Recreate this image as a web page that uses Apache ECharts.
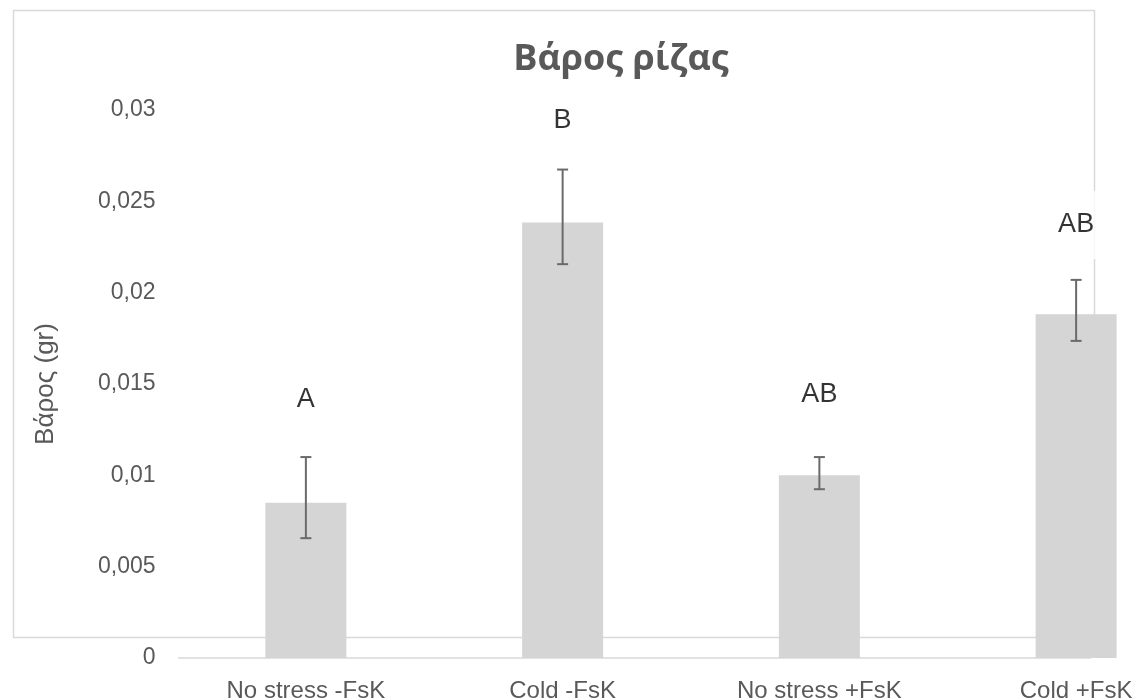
<!DOCTYPE html>
<html>
<head>
<meta charset="utf-8">
<script src="https://cdn.jsdelivr.net/npm/echarts@6/dist/echarts.min.js"></script>
<style>
  html, body { margin: 0; padding: 0; background: #ffffff; }
  #chart { width: 1135px; height: 699px; }
</style>
</head>
<body>
<div id="chart"></div>
<script>
// Treatments and mean root weight (g)
var categories = ['No stress -FsK', 'Cold -FsK', 'No stress +FsK', 'Cold +FsK'];
var meanWeight = [0.0085, 0.02384, 0.0100, 0.01882];
// Error bar ends (g)
var errLow  = [0.00656, 0.02156, 0.00924, 0.01736];
var errHigh = [0.0110, 0.02674, 0.0110, 0.0207];
// Significance letters and the height (g) where each one sits
var letters = ['A', 'B', 'AB', 'AB'];
var letterY = [0.01413, 0.02941, 0.0144, 0.02371];

var chart = echarts.init(document.getElementById('chart'));

var textGrey = '#595959';
var labelFont = '"Liberation Sans", Arial, sans-serif';

chart.setOption({
  backgroundColor: '#ffffff',
  animation: false,
  title: {
    text: 'Βάρος ρίζας',
    left: 616,
    top: 37,
    textAlign: 'center',
    textStyle: {
      fontFamily: '"Open Sans", "Noto Sans", sans-serif',
      fontWeight: 'bold',
      fontSize: 36,
      color: textGrey
    }
  },
  graphic: [
    {
      type: 'rect',
      z: -10,
      silent: true,
      shape: { x: 13.5, y: 10.5, width: 1081, height: 627 },
      style: { fill: 'none', stroke: '#d9d9d9', lineWidth: 1.5 }
    },
    {
      type: 'line',
      z: -5,
      silent: true,
      shape: { x1: 178, y1: 658, x2: 1091, y2: 658 },
      style: { stroke: '#d9d9d9', lineWidth: 1.5 }
    }
  ],
  grid: {
    left: 177.5,
    width: 1027,
    top: 110,
    bottom: 41,
    containLabel: false,
    outerBoundsMode: 'none'
  },
  xAxis: {
    type: 'category',
    data: categories,
    axisLine: { show: false },
    axisTick: { show: false },
    axisLabel: {
      color: textGrey,
      fontFamily: labelFont,
      fontSize: 24,
      margin: 21
    },
    splitLine: { show: false }
  },
  yAxis: {
    type: 'value',
    min: 0,
    max: 0.03,
    interval: 0.005,
    name: 'Βάρος (gr)',
    nameLocation: 'middle',
    nameGap: 119,
    nameTextStyle: {
      color: textGrey,
      fontFamily: labelFont,
      fontSize: 26
    },
    axisLine: { show: false },
    axisTick: { show: false },
    splitLine: { show: false },
    axisLabel: {
      color: textGrey,
      fontFamily: labelFont,
      fontSize: 23,
      margin: 22,
      formatter: function (v) {
        return String(+v.toFixed(4)).replace('.', ',');
      }
    }
  },
  series: [
    {
      type: 'bar',
      data: meanWeight,
      barWidth: 81,
      itemStyle: { color: '#d5d5d5' },
      z: 2
    },
    {
      type: 'custom',
      z: 3,
      data: categories.map(function (c, i) { return [i, errLow[i], errHigh[i]]; }),
      renderItem: function (params, api) {
        var lo = api.coord([api.value(0), api.value(1)]);
        var hi = api.coord([api.value(0), api.value(2)]);
        var half = 5.5;
        var style = { stroke: '#6a6a6a', lineWidth: 2 };
        return {
          type: 'group',
          children: [
            { type: 'line', shape: { x1: lo[0], y1: lo[1], x2: hi[0], y2: hi[1] }, style: style },
            { type: 'line', shape: { x1: hi[0] - half, y1: hi[1], x2: hi[0] + half, y2: hi[1] }, style: style },
            { type: 'line', shape: { x1: lo[0] - half, y1: lo[1], x2: lo[0] + half, y2: lo[1] }, style: style }
          ]
        };
      }
    },
    {
      type: 'scatter',
      z: 4,
      symbolSize: 0,
      data: categories.map(function (c, i) { return [i, letterY[i]]; }),
      label: {
        show: true,
        position: 'inside',
        formatter: function (p) { return letters[p.dataIndex]; },
        color: '#000000',
        fontFamily: labelFont,
        fontSize: 27,
        backgroundColor: '#ffffff',
        padding: [13, 4, 28, 4]
      }
    }
  ]
});
</script>
</body>
</html>
